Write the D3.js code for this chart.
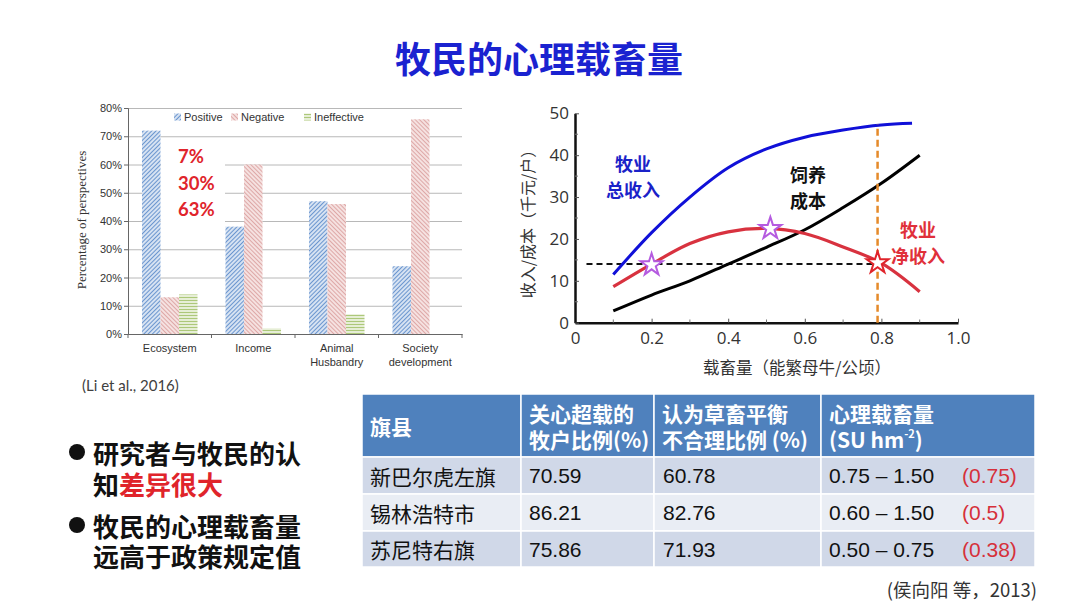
<!DOCTYPE html>
<html lang="zh">
<head>
<meta charset="UTF-8">
<title>牧民的心理载畜量</title>
<script src="https://cdnjs.cloudflare.com/ajax/libs/d3/7.8.5/d3.min.js"></script>
<style>
    body { margin: 0; background: #fff; }
    svg { display: block; }
    .cjk { font-family: "Noto Sans CJK SC", sans-serif; }
</style>
</head>
<body>
<div id="slide"></div>
<script>
    // ---- bar chart (Li et al., 2016)
    const barCategories = ["Ecosystem", "Income", "Animal\nHusbandry", "Society\ndevelopment"];
    const barSeries = ["Positive", "Negative", "Ineffective"];
    const positiveVals = [72, 38, 47, 24];
    const negativeVals = [13, 60, 46, 76];
    const ineffectiveVals = [14, 2, 7, 0];
    const barTicks = [0, 10, 20, 30, 40, 50, 60, 70, 80];
    const noteLines = ["7%", "30%", "63%"];

    // ---- curve chart
    const incomeX = [0.1, 0.2, 0.3, 0.4, 0.5, 0.6, 0.7, 0.8, 0.88];
    const incomeY = [11.5, 21.5, 30, 37, 41.5, 44.3, 46, 47.2, 47.6];
    const costX = [0.1, 0.2, 0.3, 0.4, 0.5, 0.6, 0.7, 0.8, 0.9];
    const costY = [2.8, 6.6, 10, 14, 18, 22.2, 27.5, 33.3, 40];
    const netX = [0.1, 0.2, 0.3, 0.4, 0.5, 0.6, 0.7, 0.8, 0.9];
    const netY = [8.6, 14, 18.9, 21.7, 22.5, 21.3, 18.1, 14.2, 7.4];
    const starX = [0.2, 0.51, 0.79];
    const starY = [13.8, 22.5, 14.3];
    const refLevel = 14;       // horizontal dashed line
    const refRate = 0.79;      // vertical dashed line
    const xTicks = [0, 0.2, 0.4, 0.6, 0.8, 1.0];
    const yTicks = [0, 10, 20, 30, 40, 50];

    // ---- table (侯向阳 等, 2013)
    const tableHeader = [["旗县"], ["关心超载的", "牧户比例(%)"], ["认为草畜平衡", "不合理比例 (%)"], ["心理载畜量", "(SU hm-2)"]];
    const counties = ["新巴尔虎左旗", "锡林浩特市", "苏尼特右旗"];
    const concernPct = ["70.59", "86.21", "75.86"];
    const unbalancedPct = ["60.78", "82.76", "71.93"];
    const mentalRange = ["0.75 – 1.50", "0.60 – 1.50", "0.50 – 0.75"];
    const policyValue = ["(0.75)", "(0.5)", "(0.38)"];

    const svg = d3.select("#slide").append("svg")
        .attr("width", 1080).attr("height", 608);

    svg.append("rect").attr("width", 1080).attr("height", 608).attr("fill", "#fff");

    svg.append("text")
        .attr("class", "cjk")
        .attr("x", 539).attr("y", 57)
        .attr("text-anchor", "middle").attr("dominant-baseline", "central")
        .attr("font-size", 36).attr("font-weight", "bold")
        .attr("fill", "#1a22d0")
        .text("牧民的心理载畜量");

    // ================= bar chart =================
    const defs = svg.append("defs");
    function hatch(id, bg, fg, angle, gap) {
        const p = defs.append("pattern")
            .attr("id", id).attr("patternUnits", "userSpaceOnUse")
            .attr("width", gap).attr("height", gap)
            .attr("patternTransform", `rotate(${angle})`);
        p.append("rect").attr("width", gap).attr("height", gap).attr("fill", bg);
        p.append("line").attr("x1", 0).attr("y1", 0).attr("x2", 0).attr("y2", gap)
            .attr("stroke", fg).attr("stroke-width", 1.6);
    }
    hatch("pos", "#d6e2f2", "#5083c6", 45, 3);
    hatch("neg", "#f5e1e0", "#d99a98", -45, 3);
    hatch("ine", "#e6eed6", "#9fbf63", 90, 3);
    const fills = { Positive: "url(#pos)", Negative: "url(#neg)", Ineffective: "url(#ine)" };

    const bar = svg.append("g");
    const bx = d3.scaleBand().domain(barCategories).range([128, 462])
        .paddingInner(0.335).paddingOuter(0.1675);
    const bxInner = d3.scaleBand().domain(barSeries).range([0, bx.bandwidth()]);
    const by = d3.scaleLinear().domain([0, 80]).range([334, 108]);

    bar.append("g")
        .attr("transform", "translate(128,0)")
        .call(d3.axisLeft(by).tickValues(barTicks).tickSize(-334).tickFormat(d => d + "%"))
        .call(g => g.select(".domain").remove())
        .call(g => g.selectAll(".tick line").attr("stroke", "#b8b8b8").attr("stroke-width", 1))
        .call(g => g.selectAll(".tick text").attr("x", -6).attr("fill", "#333")
            .attr("font-family", "Liberation Sans, Arial").attr("font-size", 11));

    // small outer ticks on y axis
    bar.append("g").attr("transform", "translate(128,0)")
        .call(d3.axisLeft(by).tickValues(barTicks).tickSize(4).tickFormat(""))
        .call(g => g.selectAll("line,path").attr("stroke", "#666"));

    const rows = barCategories.map((c, i) => ({
        cat: c, Positive: positiveVals[i], Negative: negativeVals[i], Ineffective: ineffectiveVals[i]
    }));
    bar.selectAll(".grp").data(rows).join("g")
        .attr("transform", d => `translate(${bx(d.cat)},0)`)
        .selectAll("rect").data(d => barSeries.map(s => ({ s, v: d[s] }))).join("rect")
        .attr("x", d => bxInner(d.s))
        .attr("width", bxInner.bandwidth())
        .attr("y", d => by(d.v))
        .attr("height", d => by(0) - by(d.v))
        .attr("fill", d => fills[d.s]);

    // x axis line with ticks at category boundaries
    bar.append("g").attr("transform", "translate(0,334)")
        .call(d3.axisBottom(bx).tickSize(0).tickFormat(""))
        .call(g => g.select(".domain").attr("stroke", "#666"));
    bar.selectAll(".bnd").data(d3.range(5)).join("line")
        .attr("x1", i => 128 + i * bx.step()).attr("x2", i => 128 + i * bx.step())
        .attr("y1", 334).attr("y2", 338).attr("stroke", "#666");

    bar.selectAll(".xl").data(barCategories).join("text")
        .attr("text-anchor", "middle")
        .attr("font-family", "Liberation Sans, Arial").attr("font-size", 11).attr("fill", "#333")
        .attr("transform", d => `translate(${bx(d) + bx.bandwidth() / 2},352)`)
        .selectAll("tspan").data(d => d.split("\n")).join("tspan")
        .attr("x", 0).attr("dy", (d, i) => i ? 14 : 0).text(d => d);

    bar.append("text")
        .attr("transform", "translate(86,220) rotate(-90)")
        .attr("text-anchor", "middle")
        .attr("font-family", "Liberation Serif, Times New Roman, serif").attr("font-size", 13)
        .attr("fill", "#333")
        .text("Percentage of perspectives");

    // legend
    const legendX = [174, 231, 304];
    const lg = bar.selectAll(".lg").data(barSeries).join("g")
        .attr("transform", (d, i) => `translate(${legendX[i]},117)`);
    lg.append("rect").attr("x", 0).attr("y", -3.5).attr("width", 7).attr("height", 7)
        .attr("fill", d => fills[d]);
    lg.append("text").attr("x", 10).attr("dy", "0.35em")
        .attr("font-family", "Liberation Sans, Arial").attr("font-size", 11).attr("fill", "#333")
        .text(d => d);

    // white note box with percentages
    bar.append("rect").attr("x", 161).attr("y", 145).attr("width", 64).attr("height", 78).attr("fill", "#fff");
    bar.selectAll(".note").data(noteLines).join("text")
        .attr("x", 178).attr("y", (d, i) => 156 + i * 26.5)
        .attr("dominant-baseline", "central")
        .attr("font-family", "Lato, sans-serif").attr("font-weight", "bold").attr("font-size", 18.5)
        .attr("fill", "#e0242b")
        .text(d => d);

    svg.append("text")
        .attr("x", 82).attr("y", 385).attr("dominant-baseline", "central")
        .attr("font-family", "Lato, sans-serif").attr("font-size", 15).attr("fill", "#404040")
        .text("(Li et al., 2016)");

    // ================= curve chart =================
    const cv = svg.append("g");
    const cx = d3.scaleLinear().domain([0, 1]).range([575, 958]);
    const cy = d3.scaleLinear().domain([0, 50]).range([322.7, 113.3]);

    const xAx = cv.append("g").attr("transform", "translate(0,322.7)")
        .call(d3.axisBottom(cx).tickValues(xTicks).tickSizeInner(-4).tickSizeOuter(0).tickPadding(9)
            .tickFormat(d => d === 0 ? "0" : d.toFixed(1)));
    const yAx = cv.append("g").attr("transform", "translate(575,0)")
        .call(d3.axisLeft(cy).tickValues(yTicks).tickSizeInner(-4).tickSizeOuter(0).tickPadding(6));
    [xAx, yAx].forEach(a => {
        a.select(".domain").attr("stroke", "#111").attr("stroke-width", 2.5);
        a.selectAll(".tick line").attr("stroke", "#555");
        a.selectAll(".tick text").attr("fill", "#333")
            .attr("font-family", "Open Sans, sans-serif").attr("font-size", 17);
    });
    // minor ticks
    cv.selectAll(".mx").data([0.1, 0.3, 0.5, 0.7, 0.9]).join("line")
        .attr("x1", d => cx(d)).attr("x2", d => cx(d)).attr("y1", 322.7).attr("y2", 319.5).attr("stroke", "#777");
    cv.selectAll(".my").data([5, 15, 25, 35, 45]).join("line")
        .attr("x1", 575).attr("x2", 578).attr("y1", d => cy(d)).attr("y2", d => cy(d)).attr("stroke", "#777");

    cv.append("text")
        .attr("class", "cjk")
        .attr("transform", "translate(527,220) rotate(-90)")
        .attr("text-anchor", "middle").attr("dominant-baseline", "central")
        .attr("font-size", 16).attr("fill", "#333")
        .text("收入/成本（千元/户）");
    cv.append("text")
        .attr("class", "cjk")
        .attr("x", 797).attr("y", 367)
        .attr("text-anchor", "middle").attr("dominant-baseline", "central")
        .attr("font-size", 16.5).attr("fill", "#333")
        .text("载畜量（能繁母牛/公顷）");

    const line = d3.line().x(d => cx(d[0])).y(d => cy(d[1])).curve(d3.curveCatmullRom);
    const zip = (xs, ys) => xs.map((x, i) => [x, ys[i]]);

    cv.append("path")
        .attr("d", line([[0.03, refLevel], [0.8, refLevel]]))
        .attr("stroke", "#111").attr("stroke-width", 2).attr("stroke-dasharray", "6,4").attr("fill", "none");

    cv.append("path").attr("d", line(zip(incomeX, incomeY)))
        .attr("stroke", "#1010d8").attr("stroke-width", 3).attr("fill", "none");
    cv.append("path").attr("d", line(zip(costX, costY)))
        .attr("stroke", "#000").attr("stroke-width", 3).attr("fill", "none");
    cv.append("path").attr("d", line(zip(netX, netY)))
        .attr("stroke", "#d8323f").attr("stroke-width", 3.2).attr("fill", "none");

    cv.append("path")
        .attr("d", line([[refRate, 0], [refRate, 47.3]]))
        .attr("stroke", "#e58a2a").attr("stroke-width", 2.5).attr("stroke-dasharray", "7,4").attr("fill", "none");

    const star = d3.symbol().type(d3.symbolStar).size(150);
    cv.selectAll(".star").data(starX).join("path")
        .attr("transform", (d, i) => `translate(${cx(d)},${cy(starY[i])})`)
        .attr("d", star)
        .attr("fill", "#fff")
        .attr("stroke", (d, i) => i === 2 ? "#e0242b" : "#b55be0")
        .attr("stroke-width", 2);

    function label(lines, x, y, color) {
        cv.append("text").attr("class", "cjk")
            .attr("text-anchor", "middle").attr("font-size", 18).attr("font-weight", "bold").attr("fill", color)
            .attr("transform", `translate(${x},${y})`)
            .selectAll("tspan").data(lines).join("tspan")
            .attr("x", 0).attr("dy", (d, i) => i ? 26 : 0).attr("dominant-baseline", "central").text(d => d);
    }
    label(["牧业", "总收入"], 633, 163, "#1a22c8");
    label(["饲养", "成本"], 808, 174, "#111");
    label(["牧业", "净收入"], 918, 229, "#e0303a");

    // ================= bullets =================
    const bullets = svg.append("g").attr("class", "cjk").attr("font-weight", "bold").attr("font-size", 26);
    [[452, 77], [525, 77]].forEach(([y, x]) =>
        bullets.append("circle").attr("cx", x).attr("cy", y).attr("r", 8).attr("fill", "#111"));
    const t1 = bullets.append("text").attr("x", 93).attr("y", 452).attr("dominant-baseline", "central").attr("fill", "#111");
    t1.text("研究者与牧民的认");
    const t2 = bullets.append("text").attr("x", 93).attr("y", 483).attr("dominant-baseline", "central").attr("fill", "#111");
    t2.append("tspan").text("知");
    t2.append("tspan").attr("fill", "#e0242b").text("差异很大");
    bullets.append("text").attr("x", 93).attr("y", 525).attr("dominant-baseline", "central").attr("fill", "#111")
        .text("牧民的心理载畜量");
    bullets.append("text").attr("x", 93).attr("y", 555).attr("dominant-baseline", "central").attr("fill", "#111")
        .text("远高于政策规定值");

    // ================= table =================
    const colX = [362, 521, 654, 821, 1035];
    const rowY = [394, 457, 494, 531, 567];
    const rowFill = ["#d0d8e8", "#e9edf4", "#d0d8e8"];
    const tb = svg.append("g");

    tb.selectAll(".hd").data(d3.range(4)).join("rect")
        .attr("x", i => colX[i]).attr("y", rowY[0])
        .attr("width", i => colX[i + 1] - colX[i]).attr("height", rowY[1] - rowY[0])
        .attr("fill", "#4f81bd").attr("stroke", "#fff").attr("stroke-width", 1.5);
    counties.forEach((c, r) => {
        tb.selectAll(".r" + r).data(d3.range(4)).join("rect")
            .attr("x", i => colX[i]).attr("y", rowY[r + 1])
            .attr("width", i => colX[i + 1] - colX[i]).attr("height", rowY[r + 2] - rowY[r + 1])
            .attr("fill", rowFill[r]).attr("stroke", "#fff").attr("stroke-width", 1.5);
    });

    tableHeader.forEach((lines, i) => {
        const mid = (rowY[0] + rowY[1]) / 2;
        const t = tb.append("text").attr("class", "cjk")
            .attr("font-weight", "bold").attr("font-size", 21).attr("fill", "#fff");
        lines.forEach((ln, k) => {
            const y = lines.length === 1 ? mid : mid + (k - 0.5) * 26;
            const ts = t.append("tspan").attr("x", colX[i] + 8).attr("y", y).attr("dominant-baseline", "central");
            if (ln.endsWith("hm-2)")) {
                ts.text("(SU hm");
                t.append("tspan").attr("y", y - 6).attr("font-size", 11).attr("dominant-baseline", "central").text("-2");
                t.append("tspan").attr("y", y).attr("dominant-baseline", "central").text(")");
            } else {
                ts.text(ln);
            }
        });
    });

    counties.forEach((c, r) => {
        const y = (rowY[r + 1] + rowY[r + 2]) / 2;
        tb.append("text").attr("class", "cjk").attr("x", colX[0] + 8).attr("y", y)
            .attr("dominant-baseline", "central").attr("font-size", 21).attr("fill", "#111").text(c);
        [[concernPct[r], colX[1] + 8], [unbalancedPct[r], colX[2] + 9], [mentalRange[r], colX[3] + 8]].forEach(([v, x]) =>
            tb.append("text").attr("x", x).attr("y", y).attr("dominant-baseline", "central")
                .attr("font-family", "Liberation Sans, Arial").attr("font-size", 21).attr("fill", "#111").text(v));
        tb.append("text").attr("x", 962).attr("y", y).attr("dominant-baseline", "central")
            .attr("font-family", "Liberation Sans, Arial").attr("font-size", 21).attr("fill", "#d6303a").text(policyValue[r]);
    });

    svg.append("text").attr("class", "cjk")
        .attr("x", 1037).attr("y", 589).attr("text-anchor", "end").attr("dominant-baseline", "central")
        .attr("font-size", 18.5).attr("fill", "#333")
        .text("(侯向阳 等，2013)");
</script>
</body>
</html>
